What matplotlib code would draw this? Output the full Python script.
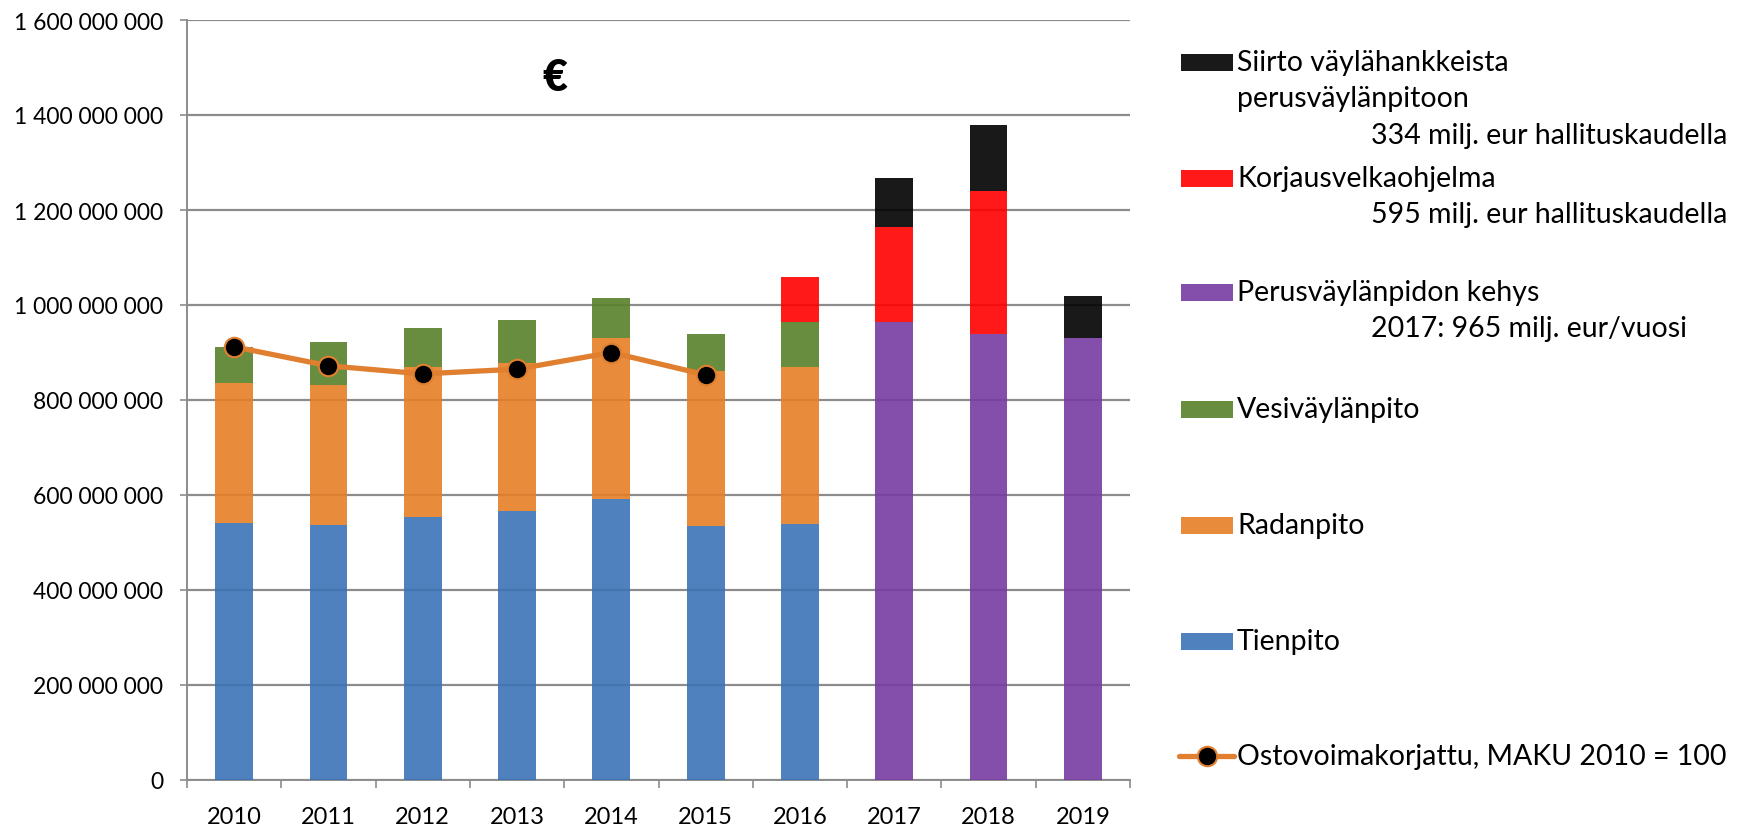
import matplotlib
matplotlib.use("Agg")
import matplotlib.pyplot as plt
import numpy as np
from matplotlib.ticker import FuncFormatter, FixedLocator
from matplotlib.patches import Rectangle
from matplotlib.lines import Line2D

plt.rcParams['font.family'] = ['Lato', 'DejaVu Sans']

years = ["2010", "2011", "2012", "2013", "2014", "2015", "2016", "2017", "2018", "2019"]
tienpito = [541, 537, 554, 567, 592, 535, 538, 0, 0, 0]
radanpito = [295, 294, 315, 311, 339, 326, 332, 0, 0, 0]
vesivaylanpito = [75, 92, 82, 90, 83, 79, 94, 0, 0, 0]
perus_kehys = [0, 0, 0, 0, 0, 0, 0, 965, 940, 930]
korjausvelka = [0, 0, 0, 0, 0, 0, 96, 199, 300, 0]
siirto = [0, 0, 0, 0, 0, 0, 0, 104, 140, 90]
ostovoima_years = ["2010", "2011", "2012", "2013", "2014", "2015"]
ostovoima = [912, 872, 855, 865, 900, 853]

labels = {
    "siirto": ["Siirto väylähankkeista", "perusväylänpitoon", "334 milj. eur hallituskaudella"],
    "korjaus": ["Korjausvelkaohjelma", "595 milj. eur hallituskaudella"],
    "perus": ["Perusväylänpidon kehys", "2017: 965 milj. eur/vuosi"],
    "vesi": ["Vesiväylänpito"],
    "rata": ["Radanpito"],
    "tie": ["Tienpito"],
    "line": ["Ostovoimakorjattu, MAKU 2010 = 100"],
}

M = 1e6
W, H = 1763, 829
fig = plt.figure(figsize=(W / 100, H / 100), dpi=100)
ax = fig.add_axes([187 / W, 1 - 781 / H, (1130 - 187) / W, (781 - 21) / H])

colors = {
    "tie": "#3B73B6", "rata": "#E67E26", "vesi": "#59812A",
    "perus": "#773BA2", "korjaus": "#FF0000", "siirto": "#000000",
}
alpha = 0.9
x = np.arange(len(years))
bw = 0.4
series = [("tie", tienpito), ("rata", radanpito), ("vesi", vesivaylanpito),
          ("perus", perus_kehys), ("korjaus", korjausvelka), ("siirto", siirto)]
bottom = np.zeros(len(years))
for key, vals in series:
    v = np.array(vals, dtype=float) * M
    ax.bar(x, v, bw, bottom=bottom, color=colors[key], alpha=alpha, zorder=3, linewidth=0)
    bottom += v

line_color = "#E07F2F"
lw = 3.8
ms = 14
lx = [years.index(y) for y in ostovoima_years]
ax.plot(lx, np.array(ostovoima) * M, color=line_color, lw=lw, zorder=5,
        marker='o', markersize=ms, markerfacecolor='black', markeredgecolor=line_color,
        markeredgewidth=1.5)

ax.set_xlim(-0.5, len(years) - 0.5)
ax.set_ylim(0, 1.6e9)
ax.set_yticks(np.arange(0, 1.6e9 + 1, 2e8))
ax.yaxis.set_major_formatter(FuncFormatter(lambda v, p: f"{int(round(v)):,}".replace(",", " ")))
ax.grid(axis='y', color='#8C8C8C', lw=1.6, zorder=1)
ax.set_axisbelow(True)

ax.set_xticks(x)
ax.set_xticklabels(years)
ax.xaxis.set_minor_locator(FixedLocator(np.arange(-0.5, len(years), 1.0)))
ax.tick_params(axis='x', which='major', length=0, pad=19, labelsize=17)
ax.tick_params(axis='x', which='minor', length=6, width=1.2, color='#8C8C8C')
ax.tick_params(axis='y', length=5, width=1.2, color='#8C8C8C', pad=12, labelsize=16.5)

for s in ['top', 'right']:
    ax.spines[s].set_visible(False)
for s in ['left', 'bottom']:
    ax.spines[s].set_color('#8C8C8C')
    ax.spines[s].set_linewidth(1.4)

def fy(ypx):
    return 1 - ypx / H

def fx(xpx):
    return xpx / W

fig.text(fx(555), fy(78), "€", fontsize=31, fontweight='heavy', ha='center', va='center')

# legend (manual)
leg_fs = 20.5
entries = [("siirto", 63), ("korjaus", 179), ("perus", 293),
           ("vesi", 410), ("rata", 526), ("tie", 642)]
line_gap = 36.5
for key, ypx in entries:
    fig.patches.append(Rectangle((fx(1181), fy(ypx + 8.5)), 52 / W, 17 / H,
                                 transform=fig.transFigure, facecolor=colors[key],
                                 alpha=alpha, linewidth=0))
    lines = labels[key]
    for i, t in enumerate(lines):
        xt = 1237 if (i == 0 or (key == "siirto" and i == 1)) else 1371
        fig.text(fx(xt), fy(ypx + i * line_gap), t, fontsize=leg_fs, ha='left', va='center')

ly = 757
fig.lines.append(Line2D([fx(1179), fx(1234)], [fy(ly), fy(ly)], transform=fig.transFigure,
                        color=line_color, lw=lw, solid_capstyle='round'))
fig.lines.append(Line2D([fx(1206.5)], [fy(ly)], transform=fig.transFigure, marker='o',
                        markersize=ms, markerfacecolor='black', markeredgecolor=line_color,
                        markeredgewidth=1.5))
fig.text(fx(1237), fy(ly), labels["line"][0], fontsize=leg_fs, ha='left', va='center')

fig.savefig("out.png", dpi=100)
